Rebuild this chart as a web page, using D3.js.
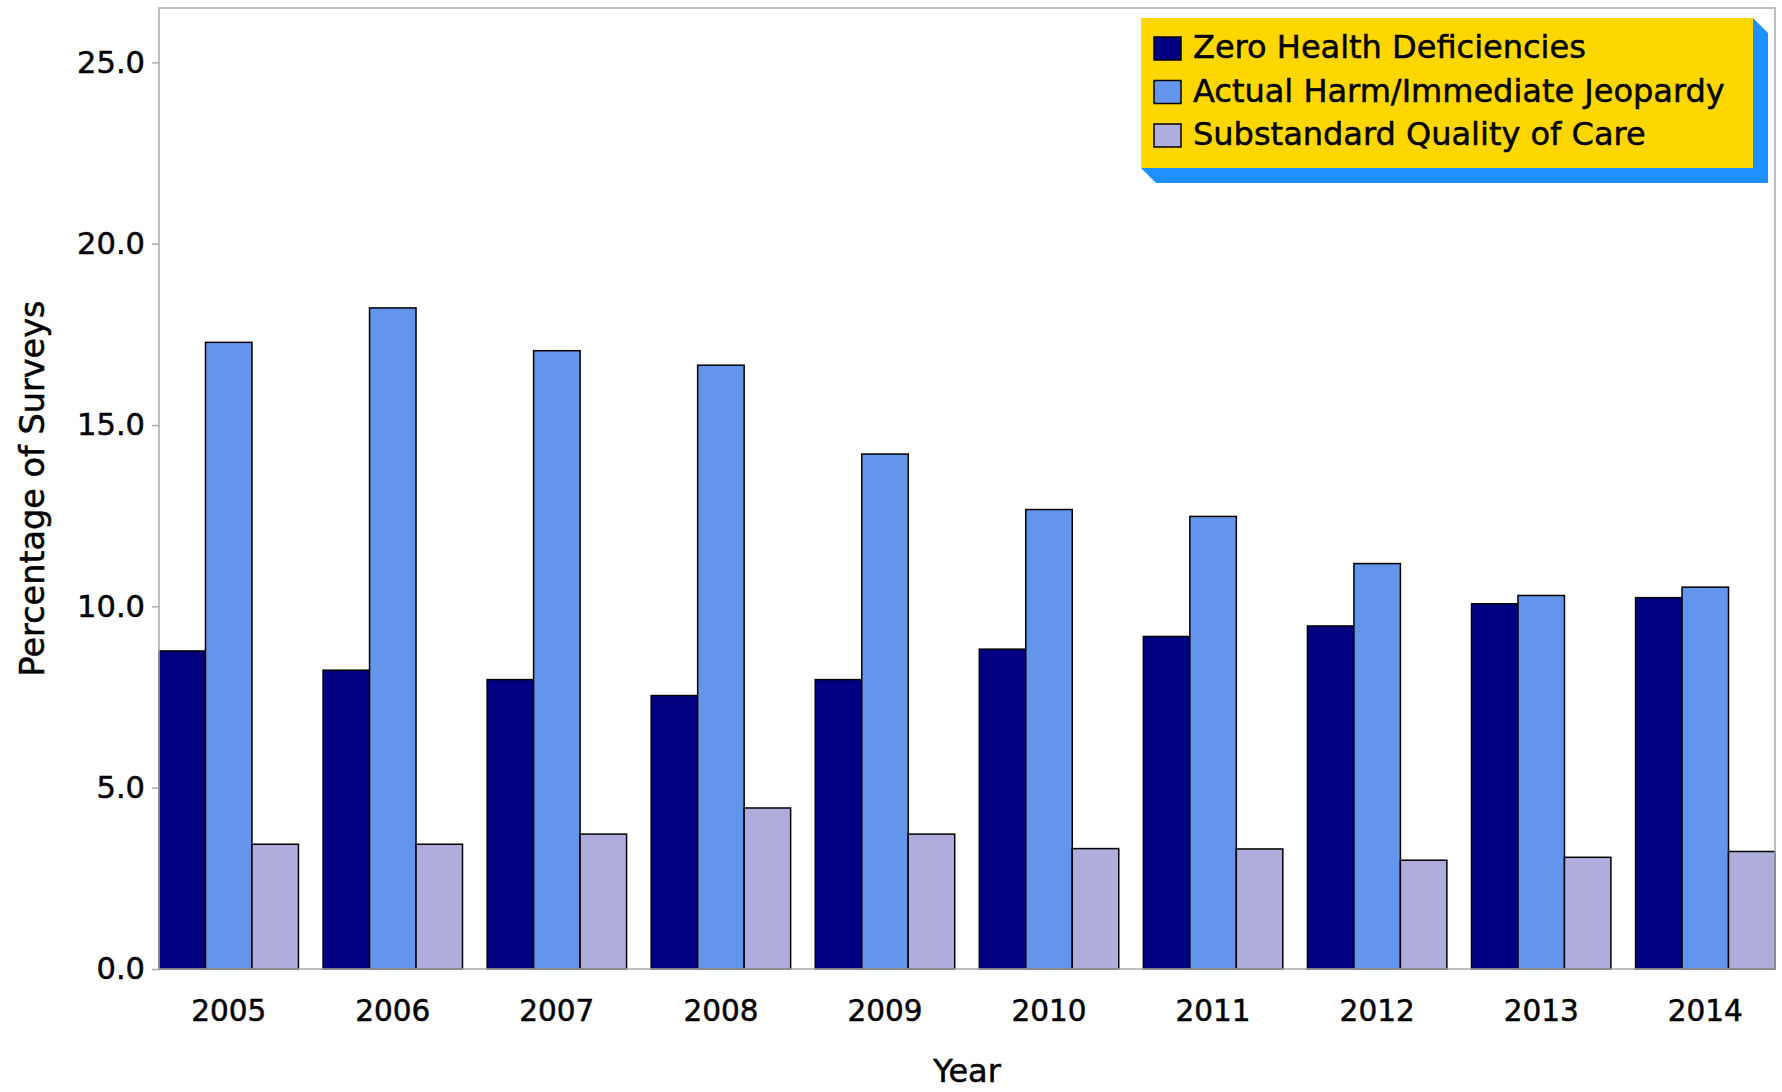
<!DOCTYPE html>
<html>
<head>
<meta charset="utf-8">
<script src="https://cdn.jsdelivr.net/npm/d3@7"></script>
<style>
  body { margin: 0; background: #fff; }
  svg { display: block; font-family: "DejaVu Sans", sans-serif; }
  svg text { stroke: #000; stroke-width: 0.5px; }
</style>
</head>
<body>
<div id="chart"></div>
<script>
const years = ["2005", "2006", "2007", "2008", "2009", "2010", "2011", "2012", "2013", "2014"];
const seriesNames = ["Zero Health Deficiencies", "Actual Harm/Immediate Jeopardy", "Substandard Quality of Care"];
const zeroHealth = [8.77, 8.24, 7.98, 7.54, 7.98, 8.82, 9.17, 9.46, 10.07, 10.24];
const harmJeopardy = [17.28, 18.23, 17.05, 16.65, 14.2, 12.67, 12.48, 11.18, 10.3, 10.53];
const substandard = [3.44, 3.44, 3.72, 4.44, 3.72, 3.32, 3.31, 3.0, 3.08, 3.24];
const yTicks = [0, 5, 10, 15, 20, 25];
const colors = ["#000080", "#6495ED", "#AFADDB"];

const width = 1782, height = 1092;
const margin = { top: 8, right: 7, bottom: 123, left: 159 };

const seriesValues = [zeroHealth, harmJeopardy, substandard];
const data = years.map((yr, i) => ({
  year: yr,
  values: seriesNames.map((s, j) => ({ key: s, idx: j, value: seriesValues[j][i] }))
}));

const svg = d3.select("#chart").append("svg")
  .attr("width", width)
  .attr("height", height)
  .attr("viewBox", [0, 0, width, height]);

const x0 = d3.scaleBand()
  .domain(years)
  .range([margin.left, width - margin.right])
  .paddingInner(0.15)
  .paddingOuter(0);

const x1 = d3.scaleBand()
  .domain(seriesNames)
  .range([0, x0.bandwidth()]);

const y = d3.scaleLinear()
  .domain([0, 26.5])
  .range([height - margin.bottom, margin.top]);

// bars
svg.append("g")
  .selectAll("g")
  .data(data)
  .join("g")
  .attr("transform", d => `translate(${x0(d.year)},0)`)
  .selectAll("rect")
  .data(d => d.values)
  .join("rect")
  .attr("x", d => x1(d.key))
  .attr("y", d => y(d.value))
  .attr("width", x1.bandwidth())
  .attr("height", d => y(0) - y(d.value))
  .attr("fill", d => colors[d.idx])
  .attr("stroke", "#000")
  .attr("stroke-width", 1.5);

// frame
svg.append("rect")
  .attr("x", margin.left)
  .attr("y", margin.top)
  .attr("width", width - margin.left - margin.right)
  .attr("height", y(0) - margin.top)
  .attr("fill", "none")
  .attr("stroke", "#A7AAAD")
  .attr("stroke-width", 1.5);

// y axis
svg.append("g")
  .attr("transform", `translate(${margin.left},0)`)
  .call(d3.axisLeft(y).tickValues(yTicks).tickFormat(d3.format(".1f")).tickSize(7).tickPadding(7))
  .call(g => g.select(".domain").remove())
  .call(g => g.selectAll(".tick line").attr("stroke", "#A7AAAD").attr("stroke-width", 1.5))
  .call(g => g.selectAll(".tick text")
    .attr("font-size", 30.5)
    .attr("font-family", "DejaVu Sans")
    .attr("fill", "#000"));

// x axis
svg.append("g")
  .attr("transform", `translate(0,${y(0)})`)
  .call(d3.axisBottom(x0).tickSize(0))
  .call(g => g.select(".domain").remove())
  .call(g => g.selectAll(".tick text")
    .attr("y", 52)
    .attr("dy", null)
    .attr("font-size", 29.5)
    .attr("font-family", "DejaVu Sans")
    .attr("fill", "#000"));

// axis titles
svg.append("text")
  .attr("transform", `translate(44,${(margin.top + y(0)) / 2}) rotate(-90)`)
  .attr("text-anchor", "middle")
  .attr("font-size", 33.5)
  .text("Percentage of Surveys");

svg.append("text")
  .attr("x", (margin.left + width - margin.right) / 2)
  .attr("y", 1082)
  .attr("text-anchor", "middle")
  .attr("font-size", 32)
  .text("Year");

// legend
const lg = { x: 1141, y: 18, w: 612, h: 150, d: 15 };
const legend = svg.append("g");

legend.append("polygon")
  .attr("points", [
    [lg.x + lg.w, lg.y],
    [lg.x + lg.w + lg.d, lg.y + lg.d],
    [lg.x + lg.w + lg.d, lg.y + lg.h + lg.d],
    [lg.x + lg.d, lg.y + lg.h + lg.d],
    [lg.x, lg.y + lg.h]
  ].map(p => p.join(",")).join(" "))
  .attr("fill", "#1E90FF");

legend.append("rect")
  .attr("x", lg.x)
  .attr("y", lg.y)
  .attr("width", lg.w)
  .attr("height", lg.h)
  .attr("fill", "#FFD700");

const rows = legend.selectAll("g.row")
  .data(seriesNames)
  .join("g")
  .attr("class", "row")
  .attr("transform", (d, i) => `translate(${lg.x}, ${58 + i * 43.5})`);

rows.append("rect")
  .attr("x", 13)
  .attr("y", -21)
  .attr("width", 27)
  .attr("height", 23)
  .attr("fill", (d, i) => colors[i])
  .attr("stroke", "#000")
  .attr("stroke-width", 1.5);

rows.append("text")
  .attr("x", 52)
  .attr("y", 0)
  .attr("font-size", 32)
  .attr("fill", "#000")
  .text(d => d);
</script>
</body>
</html>
